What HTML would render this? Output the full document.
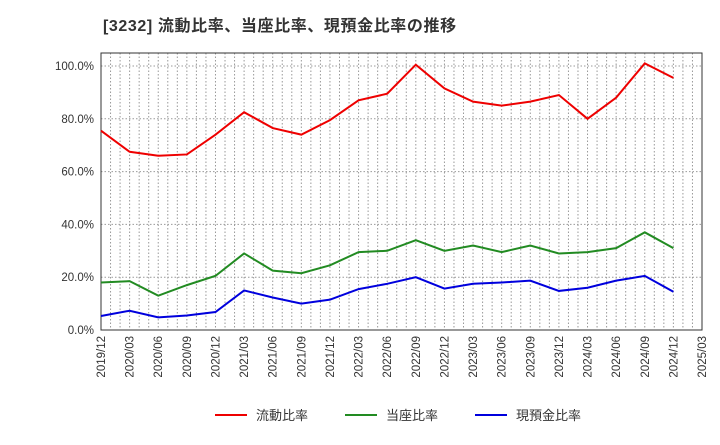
<!DOCTYPE html>
<html><head><meta charset="utf-8"><style>
body{margin:0;background:#fff;font-family:"Liberation Sans","Noto Sans CJK JP",sans-serif;}
</style></head><body>
<svg id="c" width="720" height="440" xmlns="http://www.w3.org/2000/svg">
<text x="103" y="31" font-size="16" font-weight="bold" letter-spacing="0.6" fill="#333" font-family="Liberation Sans, Noto Sans CJK JP, sans-serif">[3232]  流動比率、当座比率、現預金比率の推移</text>
<g id="grid"></g><g id="axes"></g><g id="series"></g>
<g font-size="13" fill="#333">
<line x1="215" y1="415" x2="247" y2="415" stroke="#e00" stroke-width="2"/><text x="256" y="420">流動比率</text>
<line x1="345" y1="415" x2="377" y2="415" stroke="#228b22" stroke-width="2"/><text x="386" y="420">当座比率</text>
<line x1="475" y1="415" x2="507" y2="415" stroke="#00d" stroke-width="2"/><text x="516" y="420">現預金比率</text>
</g>
</svg>
<script>
const xLabels=["2019/12","2020/03","2020/06","2020/09","2020/12","2021/03","2021/06","2021/09","2021/12","2022/03","2022/06","2022/09","2022/12","2023/03","2023/06","2023/09","2023/12","2024/03","2024/06","2024/09","2024/12","2025/03"];
const yTicks=[0,20,40,60,80,100];
const currentRatio=[75.5,67.5,66,66.5,74,82.5,76.5,74,79.5,87,89.5,100.5,91.5,86.5,85,86.5,89,80,88,101,95.5];
const quickRatio=[18,18.5,13,17,20.5,29,22.5,21.5,24.5,29.5,30,34,30,32,29.5,32,29,29.5,31,37,31];
const cashRatio=[5.3,7.3,4.8,5.5,6.8,15,12.3,10,11.5,15.5,17.5,20,15.7,17.5,18,18.7,14.8,16,18.7,20.5,14.5];
const L=101,R=702,T=53,B=330;
const xs=i=>L+i*(R-L)/(xLabels.length-1);
const ys=v=>B-v*2.64;
const NS="http://www.w3.org/2000/svg";
function mk(p,t,a){const e=document.createElementNS(NS,t);for(const k in a)e.setAttribute(k,a[k]);p.appendChild(e);return e;}
const g=document.getElementById('grid'),ax=document.getElementById('axes'),s=document.getElementById('series');
for(let m=1;m<(xLabels.length-1)*3;m++){const x=L+m*(R-L)/((xLabels.length-1)*3);
const l=mk(g,'line',{x1:x,x2:x,y1:T,y2:B,stroke:'#999','stroke-dasharray':'1.5,2','stroke-width':1});

}
yTicks.forEach(v=>{if(v>0){const l=mk(g,'line',{x1:L,x2:R,y1:ys(v),y2:ys(v),stroke:'#999','stroke-dasharray':'1.5,2'});

}
const t=mk(ax,'text',{x:L-7,y:ys(v)+4,'text-anchor':'end','font-size':11.5,fill:'#333'});t.textContent=v.toFixed(1)+'%';

});
const fr=mk(ax,'rect',{x:L,y:T,width:R-L,height:B-T,fill:'none',stroke:'#333','stroke-width':1});


xLabels.forEach((lb,i)=>{const x=xs(i);const t=mk(ax,'text',{x:x+4,y:B+6,'text-anchor':'end','font-size':11.5,fill:'#333',transform:`rotate(-90 ${x+4} ${B+6})`});t.textContent=lb;

});
[[currentRatio,'#e00','current-ratio-line'],[quickRatio,'#228b22','quick-ratio-line'],[cashRatio,'#00d','cash-ratio-line']].forEach(([d,c,n])=>{
const p=mk(s,'polyline',{points:d.map((v,i)=>xs(i)+','+ys(v)).join(' '),fill:'none',stroke:c,'stroke-width':2});

});
</script>
</body></html>
